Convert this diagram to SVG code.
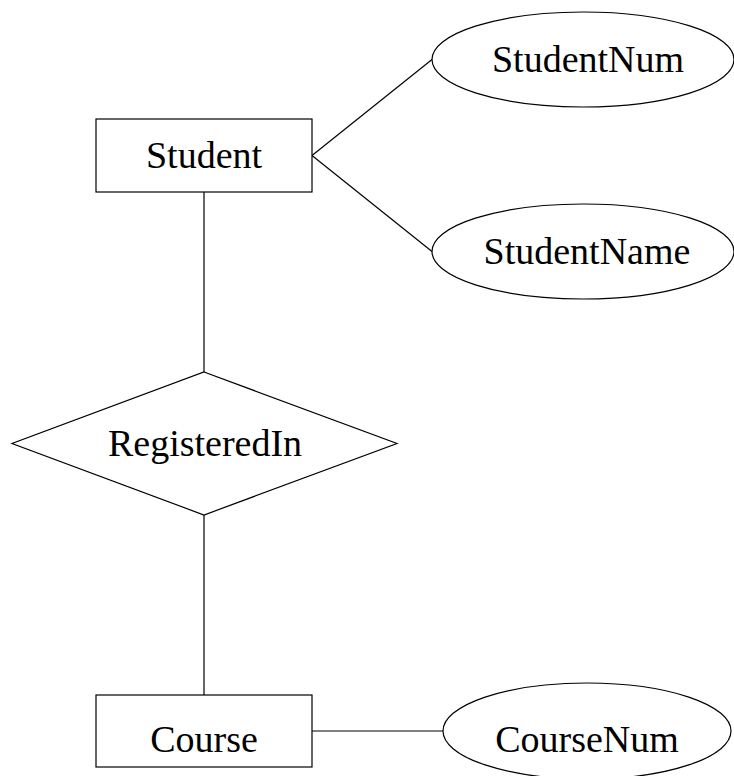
<svg xmlns="http://www.w3.org/2000/svg" width="734" height="776" viewBox="0 0 734 776">
<style>
.s{fill:#fff;stroke:#000;stroke-width:1.2}
.c{stroke:#000;stroke-width:1.2;fill:none}
text{font-family:"Liberation Serif","Times New Roman",serif;font-size:38px;text-anchor:middle;fill:#000}
</style>
<rect width="734" height="776" fill="#fff"/>
<g id="connectors">
<line class="c" x1="312" y1="155.5" x2="432" y2="59.5"/>
<line class="c" x1="312" y1="155.5" x2="432" y2="251.5"/>
<line class="c" x1="204" y1="192" x2="204" y2="372"/>
<line class="c" x1="204" y1="515" x2="204" y2="695"/>
<line class="c" x1="312" y1="731" x2="443" y2="731"/>
</g>
<g id="student">
<rect class="s" x="96" y="119" width="216" height="73"/>
<text x="204" y="168">Student</text>
</g>
<g id="studentnum">
<ellipse class="s" cx="583" cy="59.5" rx="151" ry="47.5"/>
<text x="588" y="72">StudentNum</text>
</g>
<g id="studentname">
<ellipse class="s" cx="583" cy="251.5" rx="151" ry="47.5"/>
<text x="587" y="264">StudentName</text>
</g>
<g id="registeredin">
<polygon class="s" points="204,372 397,443.5 204,515 12,443.5"/>
<text x="205" y="456">RegisteredIn</text>
</g>
<g id="course">
<rect class="s" x="96" y="695" width="216" height="72"/>
<text x="204" y="752">Course</text>
</g>
<g id="coursenum">
<ellipse class="s" cx="587" cy="731" rx="144" ry="48"/>
<text x="587" y="752">CourseNum</text>
</g>
</svg>
